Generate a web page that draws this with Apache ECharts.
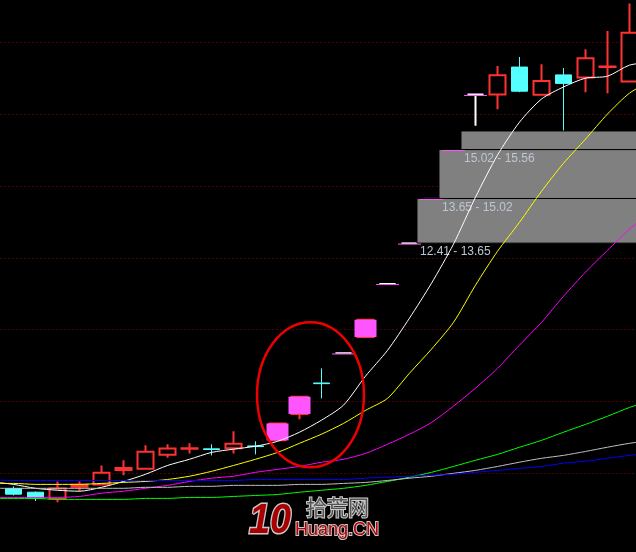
<!DOCTYPE html>
<html><head><meta charset="utf-8">
<script src="https://cdn.jsdelivr.net/npm/echarts@6/dist/echarts.min.js"></script>
<style>html,body{margin:0;padding:0;background:#000;}#c{width:636px;height:552px;}</style>
</head><body><div id="c"></div>
<script>
// ---------- data ----------
// first and last categories are the partly visible days at the chart edges (only the averages show there)
const categories = ['K00','K01','K02','K03','K04','K05','K06','K07','K08','K09','K10','K11','K12','K13','K14','K15',
  'K16','K17','K18','K19','K20','K21','K22','K23','K24','K25','K26','K27','K28','K29','K30'];
const opens  = ['-',6.12,6.01,5.81,6.18,6.25,6.69,6.73,7.16,7.34,7.34,7.36,7.43,7.60,8.41,9.36,
  10.28,10.77,12.41,13.65,15.02,16.52,18.21,18.21,19.05,18.20,18.81,18.73,19.05,18.61,'-'];
const closes = ['-',5.95,5.83,6.12,6.24,6.61,6.75,7.25,7.35,7.36,7.32,7.50,7.41,8.12,8.94,9.34,
  10.28,11.30,12.41,13.65,15.02,16.52,18.21,18.80,18.31,18.62,18.55,19.32,19.07,20.10,'-'];
const lows   = ['-',5.91,5.74,5.70,6.04,6.25,6.53,6.73,7.07,7.20,7.14,7.20,7.17,7.58,8.25,8.89,
  10.28,10.74,12.41,13.65,15.02,16.52,17.25,17.76,18.28,18.20,17.09,18.28,18.25,18.61,'-'];
const highs  = ['-',6.19,6.03,6.34,6.34,6.83,6.99,7.45,7.48,7.51,7.48,7.88,7.57,8.12,8.94,9.81,
  10.28,11.30,12.41,13.65,15.02,16.52,18.21,19.08,19.36,19.14,19.02,19.60,20.16,21.00,'-'];
// u = up (red hollow), d = down (cyan), f = one-price limit dash (white), t = T-shape (white)
const candleKind = ['-','d','d','u','u','u','u','u','u','u','d','u','d','u','u','d',
  'f','u','f','f','f','f','t','u','d','u','d','u','u','u','-'];
const limitUpIdx = [13,14,17];                 // filled magenta limit-up bodies
const limitMarkIdx = [16,18,19,20,21,22];      // magenta limit marks under one-price closes

const ma5  = [6.33,6.25,6.13,6.07,6.04,6.16,6.34,6.56,6.83,7.02,7.23,7.33,7.42,7.57,7.85,8.22,
  8.68,9.57,10.36,11.35,12.42,13.62,15.06,16.35,17.36,18.07,18.44,18.71,18.77,19.11,19.20];
const ma10 = [6.28,6.28,6.25,6.25,6.25,6.28,6.31,6.34,6.40,6.50,6.65,6.83,7.02,7.23,7.51,7.79,
  8.12,8.52,8.89,9.66,10.40,11.22,12.36,13.40,14.29,15.24,16.10,16.84,17.61,18.25,18.64];
const ma20 = [5.85,5.85,5.85,5.85,5.88,5.98,6.04,6.13,6.22,6.34,6.44,6.50,6.62,6.71,6.80,6.93,
  7.02,7.20,7.48,7.79,8.15,8.65,9.20,9.81,10.52,11.22,12.02,12.76,13.43,14.08,14.62];
const ma60 = [5.82,5.82,5.82,5.79,5.79,5.79,5.79,5.82,5.82,5.85,5.85,5.88,5.91,5.94,6.01,6.07,
  6.13,6.22,6.34,6.47,6.62,6.80,6.99,7.17,7.39,7.60,7.85,8.09,8.34,8.61,8.83];
const maBlue = [6.39,6.37,6.37,6.37,6.37,6.37,6.37,6.37,6.37,6.37,6.37,6.37,6.40,6.40,6.40,6.40,
  6.40,6.44,6.47,6.50,6.53,6.56,6.62,6.68,6.74,6.80,6.90,6.96,7.05,7.14,7.20];
const maGray = [6.13,6.13,6.13,6.13,6.13,6.13,6.13,6.16,6.16,6.19,6.19,6.22,6.22,6.22,6.25,6.25,
  6.28,6.31,6.37,6.44,6.50,6.59,6.68,6.80,6.93,7.05,7.14,7.26,7.39,7.51,7.60];

// unfilled gap zones: [start candle index, low price, high price]
const gapStart = [19, 20, 21];
const gapLow   = [13.65, 15.02, 16.52];
const gapHigh  = [15.02, 16.52, 17.09];
const gapLabels = ['12.41 - 13.65', '13.65 - 15.02', '15.02 - 15.56'];

// y ticks
const yMin = 4.4, yMax = 22, yStep = 2.2;

// ---------- build ----------
const RED = '#ff3232', CYAN = '#54ffff', MAG = '#ff55ff';
const styleByKind = {
  d: {color: CYAN, color0: CYAN, borderColor: CYAN, borderColor0: CYAN, borderColorDoji: CYAN, borderWidth: 1},
  f: {color: '#fff', color0: '#fff', borderColor: '#fff', borderColor0: '#fff', borderColorDoji: '#fff', borderWidth: 1},
  t: {color: '#fff', color0: '#fff', borderColor: '#fff', borderColor0: '#fff', borderColorDoji: '#fff', borderWidth: 2},
  u: {color: '#000', color0: '#000', borderColor: RED, borderColor0: RED, borderColorDoji: RED, borderWidth: 2}
};
const candleData = categories.map((c, i) => candleKind[i] === '-'
  ? ['-', '-', '-', '-']
  : {value: [opens[i], closes[i], lows[i], highs[i]], itemStyle: styleByKind[candleKind[i]]});
const limitData = categories.map((c, i) => limitUpIdx.includes(i)
  ? [opens[i], closes[i], opens[i], closes[i]] : ['-', '-', '-', '-']);
const markData = limitMarkIdx.map(i => [i, closes[i]]);
const gapData = gapStart.map((s, i) => [s, gapLow[i], gapHigh[i]]);

const nLines = Math.round((yMax - yMin) / yStep) + 1;
const splitColors = [];
for (let i = 0; i < nLines; i++) splitColors.push(i === 0 ? 'rgba(0,0,0,0)' : '#a00000');

function maSeries(name, data, color) {
  return {name, type: 'line', data, z: 4, showSymbol: false, symbol: 'none', smooth: 0.25,
    clip: false, silent: true, lineStyle: {color, width: 1}};
}

const chart = echarts.init(document.getElementById('c'), null, {renderer: 'canvas'});
chart.setOption({
  backgroundColor: '#000',
  animation: false,
  grid: {left: -19.5, right: -26.5, top: -29.1, bottom: 7.3, outerBoundsMode: 'none', containLabel: false},
  xAxis: {type: 'category', data: categories, boundaryGap: true, show: true,
    axisLine: {show: false}, axisTick: {show: false}, axisLabel: {show: false}, splitLine: {show: false}},
  yAxis: {type: 'value', min: yMin, max: yMax, interval: yStep, scale: true,
    axisLine: {show: false}, axisTick: {show: false}, axisLabel: {show: false},
    splitLine: {show: true, lineStyle: {color: splitColors, width: 1, type: [1, 3]}}},
  series: [
    {name: 'K', type: 'candlestick', data: candleData, barWidth: 16, z: 2, clip: false, silent: true,
      itemStyle: {color: '#000', color0: CYAN, borderColor: RED, borderColor0: CYAN, borderWidth: 2}},
    {name: 'limit', type: 'candlestick', data: limitData, barWidth: 22, z: 2, clip: false, silent: true,
      itemStyle: {color: MAG, color0: MAG, borderColor: MAG, borderColor0: MAG, borderWidth: 0}},
    {name: 'limitMark', type: 'scatter', data: markData, symbol: 'rect', symbolSize: [23, 1],
      symbolOffset: [0, 1], z: 3, silent: true, itemStyle: {color: MAG, opacity: 1}},
    {name: 'gaps', type: 'custom', data: gapData, z: 3, clip: false, silent: true,
      encode: {x: 0, y: [1, 2]},
      renderItem(params, api) {
        const s = api.value(0), lo = api.value(1), hi = api.value(2);
        const pLo = api.coord([s, lo]);
        const pHi = api.coord([s, hi]);
        const band = api.size([1, 0])[0];
        const x0 = pLo[0] + band * 0.34;
        const cs = params.coordSys;
        const x1 = cs.x + cs.width;
        return {type: 'group', children: [
          {type: 'rect', shape: {x: x0, y: pHi[1], width: x1 - x0, height: pLo[1] - pHi[1]},
            style: {fill: '#808080', stroke: '#000', lineWidth: 1}},
          {type: 'text', x: x0 + 3, y: pLo[1] + 3,
            style: {text: gapLabels[params.dataIndex], fill: '#bcc6d2',
              font: '12px "Liberation Sans", Arial, sans-serif', verticalAlign: 'top', align: 'left'}}
        ]};
      }},
    maSeries('MA5', ma5, '#ffffff'),
    maSeries('MA10', ma10, '#ffff00'),
    maSeries('MA20', ma20, '#ff00ff'),
    maSeries('MA60', ma60, '#00ff00'),
    maSeries('MA120', maGray, '#c0c0c0'),
    maSeries('MA250', maBlue, '#0000ff')
  ]
});

// red ellipse annotation, placed in data coordinates
const ellipseCenter = [14.5, 9.0];
const ellipseRadius = [2.43, 2.225];
const pc = chart.convertToPixel({gridIndex: 0}, [14, ellipseCenter[1]]);
const pc2 = chart.convertToPixel({gridIndex: 0}, [15, ellipseCenter[1] + ellipseRadius[1]]);
const bandPx = pc2[0] - pc[0];
const cx = pc[0] + bandPx * (ellipseCenter[0] - 14);
const rx = bandPx * ellipseRadius[0];
const ry = pc[1] - pc2[1];

chart.setOption({
  graphic: [
    {type: 'ellipse', shape: {cx: cx, cy: pc[1], rx: rx, ry: ry}, z: 50,
      style: {fill: 'none', stroke: '#ee0000', lineWidth: 2.5}},
    {type: 'text', x: 249, y: 500, scaleX: 0.88, z: 60,
      style: {text: '10', fill: '#a80000', stroke: '#c8c8c8', lineWidth: 3, verticalAlign: 'top',
        font: 'italic bold 43px "Liberation Sans", Arial, sans-serif'}},
    {type: 'text', x: 306, y: 497, z: 60,
      style: {text: '拾荒网', fill: '#555555', stroke: '#cccccc', lineWidth: 2, verticalAlign: 'top',
        font: '21px "Noto Sans CJK SC", sans-serif'}},
    {type: 'text', x: 295, y: 521, z: 60,
      style: {text: 'Huang.CN', fill: '#b00000', stroke: '#c8c8c8', lineWidth: 2, verticalAlign: 'top',
        font: '18px "Liberation Sans", Arial, sans-serif'}}
  ]
});
</script></body></html>
